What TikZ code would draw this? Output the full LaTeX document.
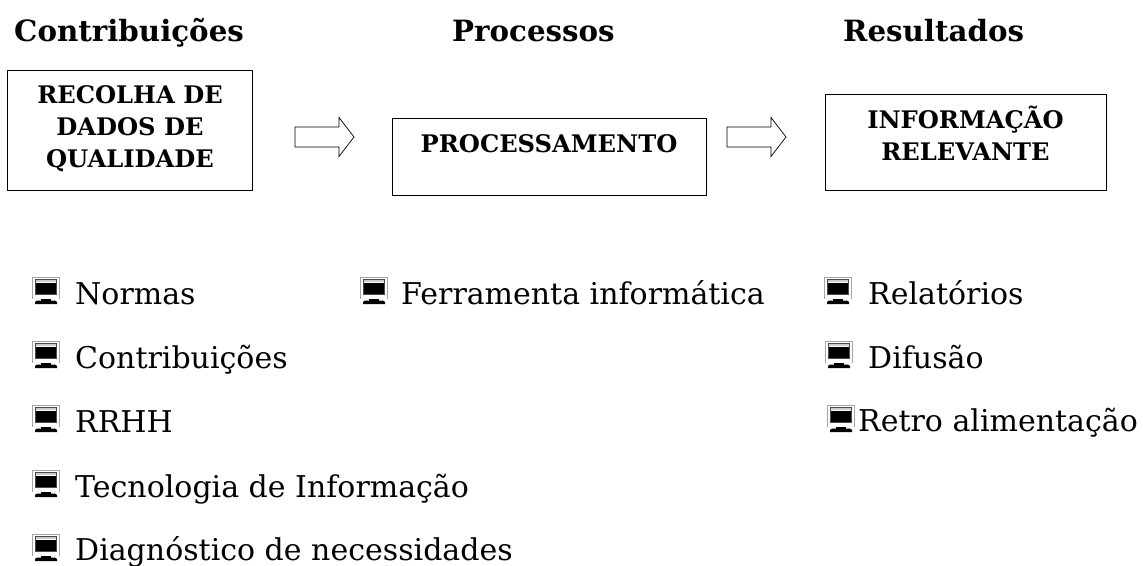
\documentclass[tikz,border=0pt]{standalone}
\usepackage{fontspec}
\setmainfont{DejaVu Serif}
\tikzset{
  px/.style={x=1pt,y=-1pt},
  heading/.style={anchor=base west,inner sep=0pt,font=\fontsize{29.3}{34}\selectfont\bfseries},
  boxtitle/.style={align=center,inner sep=0pt,font=\fontsize{24.2}{32}\selectfont\bfseries},
  frame/.style={draw=black,line width=1pt,fill=white,inner sep=0pt},
  item/.style={anchor=base west,inner sep=0pt,font=\fontsize{30}{36}\selectfont},
  blockarrow/.style={draw=black,line width=0.7pt,fill=white}
}
\newcommand{\blockarrow}[2]{% x,y of the left mid of the shaft
  \draw[blockarrow,shift={(#1,#2)}] (0,-10) -- (44,-10) -- (44,-19.5) -- (59,0) -- (44,19.5) -- (44,10) -- (0,10) -- cycle;}
\newcommand{\pcicon}[2]{% x,y of the top left corner; 28 x 27 px
  \begin{scope}[shift={(#1,#2)}]
    \fill[black!35] (0,0) rectangle (28,22);
    \fill[white] (0.8,0.8) rectangle (27,21.5);
    \fill[black!70] (3,2) rectangle (25,17.5);
    \fill[black!20] (4,3) rectangle (24,5);
    \fill[white] (4,5) rectangle (24,6);
    \fill[black] (4,6) rectangle (24,16.7);
    \fill[black] (9,22) rectangle (19,23.5);
    \fill[black] (5,23.5) -- (23,23.5) -- (25,25) -- (25,27) -- (3,27) -- (3,25) -- cycle;
  \end{scope}}
\begin{document}
\begin{tikzpicture}[px]
\useasboundingbox (0,0) rectangle (1143,565);
\node[heading] (h1) at (14,41) {Contribuições};
\node[heading] (h2) at (452,41) {Processos};
\node[heading] (h3) at (843,41) {Resultados};
\node[frame,minimum width=245pt,minimum height=120pt] (b1) at (130,130) {};
\node[boxtitle] (t1) at (130,129) {RECOLHA DE\\DADOS DE\\QUALIDADE};
\node[frame,minimum width=314pt,minimum height=77pt] (b2) at (549,156.5) {};
\node[boxtitle] (t2) at (549,144) {PROCESSAMENTO};
\node[frame,minimum width=281pt,minimum height=96pt] (b3) at (965.5,142) {};
\node[boxtitle] (t3) at (965.5,133) {INFORMAÇÃO\\RELEVANTE};
\blockarrow{295}{137}
\blockarrow{727}{137}
\pcicon{32}{277}\node[item] (a1) at (75,304) {Normas};
\pcicon{32}{341}\node[item] (a2) at (75,368) {Contribuições};
\pcicon{32}{405}\node[item] (a3) at (75,432) {RRHH};
\pcicon{32}{470}\node[item] (a4) at (75,497) {Tecnologia de Informação};
\pcicon{32}{534}\node[item] (a5) at (75,560) {Diagnóstico de necessidades};
\pcicon{360}{277}\node[item] (c1) at (401,304) {Ferramenta informática};
\pcicon{824}{277}\node[item] (d1) at (868,304) {Relatórios};
\pcicon{825}{341}\node[item] (d2) at (868,368) {Difusão};
\pcicon{827}{405}\node[item] (d3) at (858,431) {Retro alimentação};
\end{tikzpicture}
\end{document}
